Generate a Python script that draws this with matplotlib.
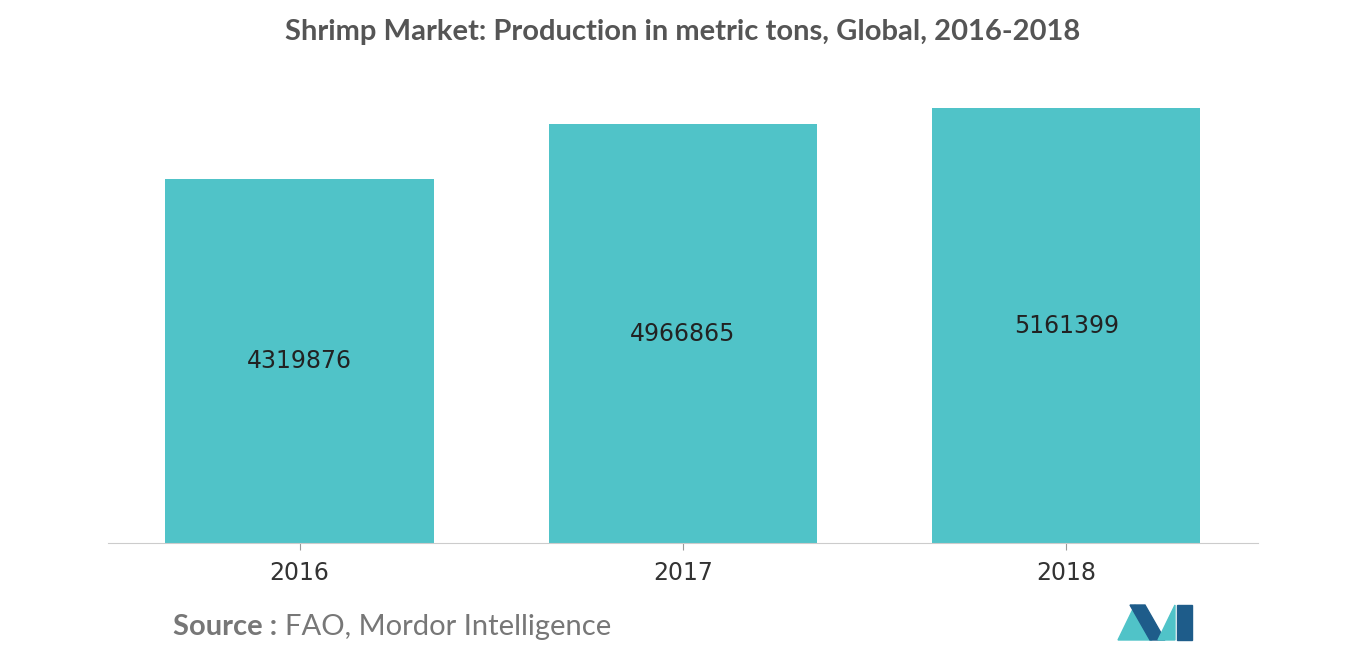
import matplotlib
matplotlib.use("Agg")
import matplotlib.pyplot as plt
from matplotlib.patches import Polygon

years = ["2016", "2017", "2018"]
production = [4319876, 4966865, 5161399]

W, H = 1366, 655
fig = plt.figure(figsize=(W/100, H/100), dpi=100)
ax = fig.add_axes([108/W, 1-543/H, 1150/W, 453/H])
x = range(len(years))
ax.bar(x, production, width=0.7, color="#50C3C8")
ax.set_xlim(-0.5, 2.5)
ax.set_ylim(0, 5376000)
for i, v in zip(x, production):
    ax.text(i, v/2, str(v), ha="center", va="center", fontsize=17, color="#222222")
ax.set_xticks(list(x))
ax.set_xticklabels(years, fontsize=17, color="#333333")
ax.tick_params(axis="x", length=5, color="#999999", pad=8)
ax.set_yticks([])
for s in ["top", "right", "left"]:
    ax.spines[s].set_visible(False)
ax.spines["bottom"].set_color("#cccccc")

fig.text(683/W, 1-32/H, "Shrimp Market: Production in metric tons, Global, 2016-2018",
         ha="center", va="center", fontsize=21, color="#555555", fontweight="bold", family="Lato")
fig.text(173/W, 1-627/H, "Source :", ha="left", va="center", fontsize=21, color="#777777",
         fontweight="bold", family="Lato")
fig.text(285/W, 1-627/H, "FAO, Mordor Intelligence", ha="left", va="center", fontsize=21,
         color="#777777", family="Lato")

def px(pts):
    return [(a/W, 1-b/H) for a, b in pts]
fig.patches.append(Polygon(px([(1118,640),(1135,605),(1152,640)]), closed=True, transform=fig.transFigure, color="#50C3C8"))
fig.patches.append(Polygon(px([(1130,605),(1145,605),(1165,640),(1150,640)]), closed=True, transform=fig.transFigure, color="#1E5C8A"))
fig.patches.append(Polygon(px([(1158,640),(1175,605),(1175,640)]), closed=True, transform=fig.transFigure, color="#50C3C8"))
fig.patches.append(Polygon(px([(1177,605),(1192,605),(1192,640),(1177,640)]), closed=True, transform=fig.transFigure, color="#1E5C8A"))

fig.savefig("out.png", dpi=100)
